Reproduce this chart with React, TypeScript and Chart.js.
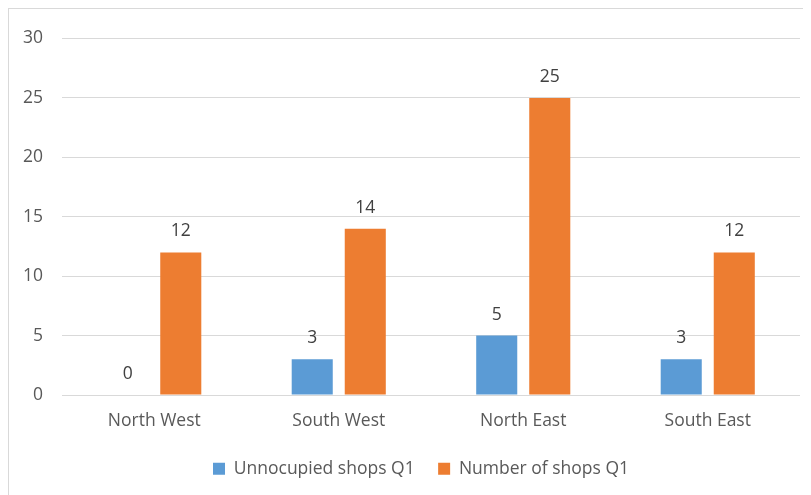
import React, { useEffect, useRef } from "react";
import { Chart, registerables } from "chart.js";

Chart.register(...registerables);

const categories = ["North West", "South West", "North East", "South East"];
const unoccupied = [0, 3, 5, 3];
const shops = [12, 14, 25, 12];
const seriesNames = ["Unnocupied shops Q1", "Number of shops Q1"];
const yMin = 0;
const yMax = 30;
const yStep = 5;

const FONT = "'Open Sans', sans-serif";
const FS = 17.5;
const LEGEND_PAD = 23.5;

const valueLabels = {
  id: "valueLabels",
  afterDatasetsDraw(chart: any) {
    const ctx = chart.ctx;
    ctx.save();
    ctx.font = `${FS}px ${FONT}`;
    ctx.fillStyle = "#404040";
    ctx.textAlign = "center";
    ctx.textBaseline = "middle";
    chart.data.datasets.forEach((ds: any, di: number) => {
      const meta = chart.getDatasetMeta(di);
      meta.data.forEach((bar: any, i: number) => {
        ctx.fillText(String(ds.data[i]), bar.x, bar.y - 21);
      });
    });
    ctx.restore();
  },
};

const legendShift = {
  id: "legendShift",
  afterLayout(chart: any) {
    if (chart.legend) chart.legend.left += 33;
  },
};

export default function App() {
  const ref = useRef<HTMLCanvasElement>(null);
  useEffect(() => {
    if (!ref.current) return;
    const chart: any = new Chart(ref.current, {
      type: "bar",
      data: {
        labels: categories,
        datasets: [
          {
            label: seriesNames[0],
            data: unoccupied,
            backgroundColor: "#5B9BD5",
            borderWidth: 0,
            categoryPercentage: 0.575,
            barPercentage: 0.774,
          },
          {
            label: seriesNames[1],
            data: shops,
            backgroundColor: "#ED7D31",
            borderWidth: 0,
            categoryPercentage: 0.575,
            barPercentage: 0.774,
          },
        ],
      },
      options: {
        animation: false,
        responsive: false,
        maintainAspectRatio: false,
        layout: { padding: { top: 25, left: 0, right: 11, bottom: 0 } },
        plugins: {
          tooltip: { enabled: false },
          legend: {
            position: "bottom",
            labels: {
              boxWidth: 12,
              boxHeight: 12,
              padding: LEGEND_PAD,
              color: "#595959",
              font: { family: FONT, size: FS },
            },
          },
        },
        scales: {
          x: {
            grid: { display: false, drawTicks: false },
            border: { display: false },
            ticks: {
              color: "#595959",
              font: { family: FONT, size: FS },
              padding: 16,
            },
            afterFit(scale: any) {
              scale.height = 41.5;
            },
          },
          y: {
            min: yMin,
            max: yMax,
            grid: { color: "#d9d9d9", lineWidth: 1, drawTicks: false },
            border: { display: false },
            ticks: {
              stepSize: yStep,
              color: "#595959",
              font: { family: FONT, size: FS },
              padding: 19,
            },
            afterFit(scale: any) {
              scale.width = 53;
            },
          },
        },
      },
      plugins: [valueLabels, legendShift],
    });
    const legend = chart.legend;
    if (legend) {
      const origFit = legend.fit.bind(legend);
      legend.fit = function () {
        origFit();
        this.height = 58.5;
      };
      chart.update();
    }
    return () => chart.destroy();
  }, []);
  return (
    <div
      style={{
        width: 802,
        height: 486,
        borderTop: "1px solid #d9d9d9",
        borderLeft: "1px solid #d9d9d9",
        background: "#fff",
        overflow: "hidden",
      }}
    >
      <canvas ref={ref} width={802} height={486} style={{ display: "block" }} />
    </div>
  );
}
